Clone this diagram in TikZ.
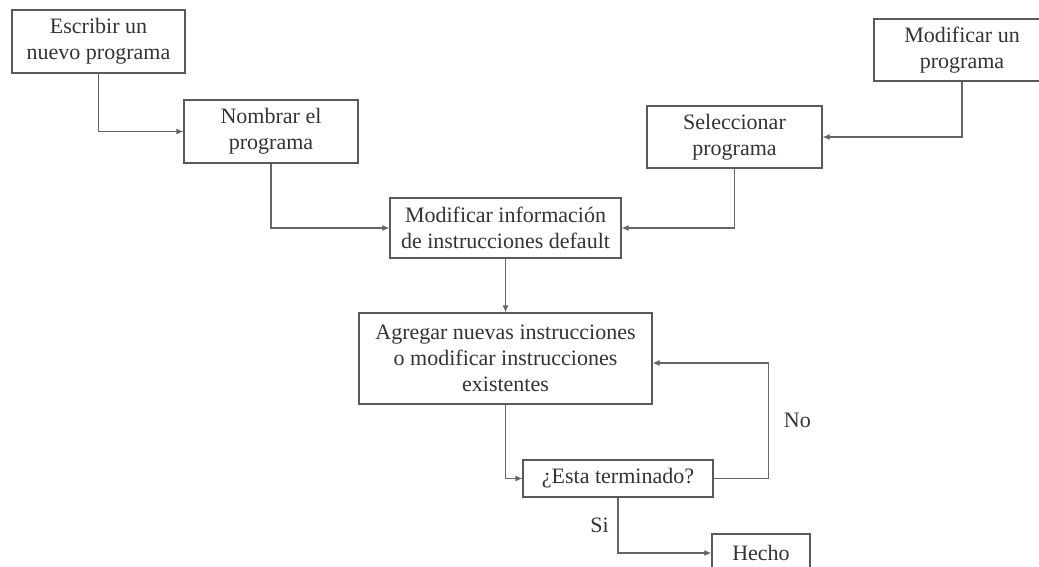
\documentclass[tikz,border=0pt]{standalone}
\usepackage{fontspec}
\setmainfont{Liberation Serif}
\usetikzlibrary{calc,arrows.meta}

\tikzset{
  caja/.style={draw=black!65,line width=0.6pt,inner sep=0pt,align=center,
    text=black!80,font=\fontsize{11}{13}\selectfont},
  flecha/.style={draw=black!60,line width=0.6pt,-{Latex[length=3.5pt,width=3pt]}},
  etiqueta/.style={text=black!80,font=\fontsize{11}{13}\selectfont}
}

\begin{document}
\begin{tikzpicture}[x=0.5pt,y=-0.5pt]
  \useasboundingbox (0,0) rectangle (1039,567);

  %% Boxes of the two entry points
  \node[caja,minimum width=86.5pt,minimum height=31.5pt] (ESCRIBIR) at (98.5,41.5) {Escribir un\\nuevo programa};
  \node[caja,minimum width=87pt,minimum height=31.5pt] (NOMBRAR) at (271,131.5) {Nombrar el\\programa};
  \node[caja,minimum width=88pt,minimum height=31pt] (MODPROG) at (962,50) {Modificar un\\programa};
  \node[caja,minimum width=87.5pt,minimum height=31pt] (SELEC) at (734.5,137) {Seleccionar\\programa};

  %% Boxes of the common part
  \node[caja,minimum width=115.5pt,minimum height=30pt] (MODINFO) at (505.5,228) {Modificar información\\de instrucciones default};
  \node[caja,minimum width=146.5pt,minimum height=45.5pt] (AGREGAR) at (505.5,358.5) {Agregar nuevas instrucciones\\o modificar instrucciones\\existentes};
  \node[caja,minimum width=95pt,minimum height=18.5pt] (TERMINADO) at (618,478.5) {¿Esta terminado?};
  \node[caja,minimum width=49pt,minimum height=19pt] (HECHO) at (761,553) {Hecho};

  %% Connectors
  \draw[flecha] (ESCRIBIR.south) |- (NOMBRAR.west);
  \draw[flecha] (NOMBRAR.south) |- (MODINFO.west);
  \draw[flecha] (MODPROG.south) |- (SELEC.east);
  \draw[flecha] (SELEC.south) |- (MODINFO.east);
  \draw[flecha] (MODINFO.south) -- (AGREGAR.north);
  \draw[flecha] (AGREGAR.south) |- (TERMINADO.west);

  %% Decision
  \draw[flecha] (TERMINADO.east) -- ++(55,0) |- node[etiqueta,pos=0.25,right=4pt] {No} ($(AGREGAR.east)+(0,4.5)$);
  \draw[flecha] (TERMINADO.south) |- node[etiqueta,pos=0.25,left=1pt] {Si} (HECHO.west);
\end{tikzpicture}
\end{document}
